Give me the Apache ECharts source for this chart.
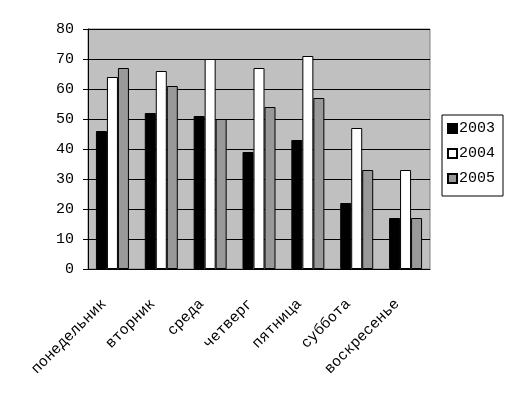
<!DOCTYPE html>
<html><head><meta charset="utf-8">
<script src="https://cdn.jsdelivr.net/npm/echarts@6/dist/echarts.min.js"></script>
<style>html,body{margin:0;padding:0;background:#fff}#c{width:513px;height:396px}</style>
</head><body><div id="c"></div>
<script>
const categories = ['понедельник','вторник','среда','четверг','пятница','суббота','воскресенье'];
const s2003 = [46, 52, 51, 39, 43, 22, 17];
const s2004 = [64, 66, 70, 67, 71, 47, 33];
const s2005 = [67, 61, 50, 54, 57, 33, 17];
const seriesNames = ['2003','2004','2005'];
const colors = ['#000000','#ffffff','#999999'];
const font = '"Liberation Mono", "DejaVu Sans Mono", monospace';
const chart = echarts.init(document.getElementById('c'));
const mk = (name, data, color) => ({
  name, type:'bar', data, barWidth:11, barGap:'0%',
  itemStyle:{color, borderColor:'#000', borderWidth:1},
  emphasis:{disabled:true}
});
chart.setOption({
  animation:false,
  grid:{left:88, right:83, top:29, bottom:127, show:true, backgroundColor:'#C0C0C0', borderColor:'#808080', borderWidth:1},
  legend:{
    orient:'vertical', left:442, top:115, padding:[6,8,10,5], icon:'rect',
    borderColor:'#000', borderWidth:1, itemWidth:9, itemHeight:9, itemGap:10,
    textStyle:{fontFamily:font, fontSize:15, color:'#000', lineHeight:14, padding:[0,0,0,-3]},
    data:seriesNames
  },
  xAxis:{
    type:'category', data:categories,
    axisLine:{lineStyle:{color:'#000'}},
    axisTick:{lineStyle:{color:'#000'}, length:5},
    axisLabel:{rotate:45, fontFamily:font, fontSize:15, color:'#000', margin:24, interval:0, padding:[0,12,0,0]}
  },
  yAxis:{
    type:'value', min:0, max:80, interval:10,
    axisLine:{show:true, lineStyle:{color:'#000'}},
    axisTick:{show:true, lineStyle:{color:'#000'}, length:5},
    axisLabel:{fontFamily:font, fontSize:15, color:'#000', margin:14},
    splitLine:{lineStyle:{color:'#000'}}
  },
  series:[mk(seriesNames[0], s2003, colors[0]), mk(seriesNames[1], s2004, colors[1]), mk(seriesNames[2], s2005, colors[2])]
});
</script></body></html>
